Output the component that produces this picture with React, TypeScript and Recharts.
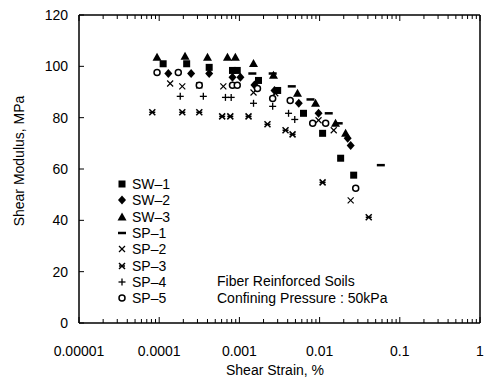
import { Scatter, ScatterChart, XAxis, YAxis } from "recharts"

// shear strain (%) vs shear modulus (MPa)
const sw1 = [
  { x: 0.000112, y: 101 }, { x: 0.00022, y: 101 }, { x: 0.00042, y: 99.6 }, { x: 0.00082, y: 98.4 },
  { x: 0.00094, y: 98.4 }, { x: 0.00173, y: 94.5 }, { x: 0.003, y: 90.6 }, { x: 0.0063, y: 81.7 },
  { x: 0.0109, y: 73.9 }, { x: 0.0183, y: 64.2 }, { x: 0.0266, y: 57.6 },
]
const sw2 = [
  { x: 0.00013, y: 97.2 }, { x: 0.00025, y: 97.2 }, { x: 0.00042, y: 97.2 }, { x: 0.00082, y: 95.7 },
  { x: 0.00103, y: 95.7 }, { x: 0.00154, y: 92.7 }, { x: 0.00274, y: 90.6 }, { x: 0.0055, y: 85.6 },
  { x: 0.0097, y: 81.7 }, { x: 0.0224, y: 72 }, { x: 0.0244, y: 69.2 },
]
const sw3 = [
  { x: 0.000094, y: 103.5 }, { x: 0.00021, y: 103.9 }, { x: 0.0004, y: 103.5 }, { x: 0.00071, y: 103.5 },
  { x: 0.00089, y: 103.5 }, { x: 0.0015, y: 101.1 }, { x: 0.00266, y: 96.5 }, { x: 0.0053, y: 89.5 },
  { x: 0.0089, y: 85.6 }, { x: 0.0158, y: 77.8 }, { x: 0.0211, y: 73.9 },
]
const sp1 = [
  { x: 0.00145, y: 97.2 }, { x: 0.0026, y: 97.2 }, { x: 0.0045, y: 92.2 }, { x: 0.0077, y: 87.1 },
  { x: 0.013, y: 81.7 }, { x: 0.0173, y: 77.8 }, { x: 0.058, y: 61.5 },
]
const sp2 = [
  { x: 0.000137, y: 93.3 }, { x: 0.000194, y: 92.2 }, { x: 0.000316, y: 92.6 }, { x: 0.00063, y: 92.2 },
  { x: 0.0015, y: 89.8 }, { x: 0.0028, y: 89.5 }, { x: 0.0097, y: 79 }, { x: 0.015, y: 75.1 },
  { x: 0.0244, y: 47.8 },
]
const sp3 = [
  { x: 0.000082, y: 82.1 }, { x: 0.000194, y: 82.1 }, { x: 0.000316, y: 82.1 }, { x: 0.00061, y: 80.5 },
  { x: 0.00077, y: 80.5 }, { x: 0.0013, y: 80.5 }, { x: 0.00224, y: 77.4 }, { x: 0.00376, y: 75.1 },
  { x: 0.0046, y: 73.5 }, { x: 0.0109, y: 54.8 }, { x: 0.041, y: 41.2 },
]
const sp4 = [
  { x: 0.000183, y: 88.3 }, { x: 0.000355, y: 88.3 }, { x: 0.00067, y: 87.9 }, { x: 0.00079, y: 87.9 },
  { x: 0.0015, y: 85.6 }, { x: 0.0026, y: 84.4 }, { x: 0.0041, y: 81.7 }, { x: 0.0049, y: 79.3 },
]
const sp5 = [
  { x: 0.000094, y: 97.6 }, { x: 0.000173, y: 97.6 }, { x: 0.000316, y: 92.6 }, { x: 0.00082, y: 92.6 },
  { x: 0.00094, y: 92.6 }, { x: 0.00168, y: 91.4 }, { x: 0.0026, y: 87.5 }, { x: 0.0043, y: 86.7 },
  { x: 0.0082, y: 77.8 }, { x: 0.0119, y: 77.8 }, { x: 0.0282, y: 52.5 },
]

const seriesNames = ["SW–1", "SW–2", "SW–3", "SP–1", "SP–2", "SP–3", "SP–4", "SP–5"]
const seriesKinds = ["square", "diamond", "triangle", "dash", "x", "star", "plus", "circle"]
const seriesData = [sw1, sw2, sw3, sp1, sp2, sp3, sp4, sp5]

const xMajorTicks = [0.00001, 0.0001, 0.001, 0.01, 0.1, 1]
const xTickLabels = ["0.00001", "0.0001", "0.001", "0.01", "0.1", "1"]
const minorSteps = [2, 3, 4, 5, 6, 7, 8, 9]
const yTicks = [0, 20, 40, 60, 80, 100, 120]

const xAllTicks = [
  ...xMajorTicks,
  ...xMajorTicks.slice(0, -1).flatMap((d) => minorSteps.map((m) => d * m)),
]

const font = "'Liberation Sans', Arial, sans-serif"

function Marker({ kind, cx, cy }: { kind: string; cx: number; cy: number }) {
  if (cx == null || cy == null) return null
  switch (kind) {
    case "square":
      return <rect x={cx - 3.5} y={cy - 3.5} width={7} height={7} fill="#000" />
    case "diamond":
      return <polygon points={`${cx},${cy - 4.5} ${cx + 4},${cy} ${cx},${cy + 4.5} ${cx - 4},${cy}`} fill="#000" />
    case "triangle":
      return <polygon points={`${cx},${cy - 4.5} ${cx + 4.5},${cy + 3.5} ${cx - 4.5},${cy + 3.5}`} fill="#000" />
    case "dash":
      return <line x1={cx - 4} y1={cy} x2={cx + 4} y2={cy} stroke="#000" strokeWidth={2.5} />
    case "x":
      return (
        <g stroke="#000" strokeWidth={1.2}>
          <line x1={cx - 3} y1={cy - 3} x2={cx + 3} y2={cy + 3} />
          <line x1={cx - 3} y1={cy + 3} x2={cx + 3} y2={cy - 3} />
        </g>
      )
    case "star":
      return (
        <g stroke="#000" strokeWidth={1.5}>
          <line x1={cx - 3} y1={cy - 3} x2={cx + 3} y2={cy + 3} />
          <line x1={cx - 3} y1={cy + 3} x2={cx + 3} y2={cy - 3} />
          <line x1={cx - 3} y1={cy} x2={cx + 3} y2={cy} />
        </g>
      )
    case "plus":
      return (
        <g stroke="#000" strokeWidth={1.3}>
          <line x1={cx - 3.5} y1={cy} x2={cx + 3.5} y2={cy} />
          <line x1={cx} y1={cy - 3.5} x2={cx} y2={cy + 3.5} />
        </g>
      )
    default:
      return <circle cx={cx} cy={cy} r={3} fill="#fff" stroke="#000" strokeWidth={1.5} />
  }
}

function isMajor(v: number) {
  return xMajorTicks.some((m) => Math.abs(v - m) / m < 1e-6)
}

function BottomTick(props: any) {
  const { x, y, payload } = props
  const v = payload.value
  const major = isMajor(v)
  const i = xMajorTicks.findIndex((m) => Math.abs(v - m) / m < 1e-6)
  return (
    <g>
      <line x1={x} y1={y} x2={x} y2={y - (major ? 6 : 4)} stroke="#000" />
      {major && (
        <text x={x} y={y + 33} textAnchor="middle" fontSize={14} fontFamily={font} fill="#000">
          {xTickLabels[i]}
        </text>
      )}
    </g>
  )
}

function TopTick(props: any) {
  const { x, y, payload } = props
  const major = isMajor(payload.value)
  return <line x1={x} y1={y} x2={x} y2={y + (major ? 6 : 4)} stroke="#000" />
}

function LeftTick(props: any) {
  const { x, y, payload } = props
  return (
    <g>
      <line x1={x} y1={y} x2={x + 5} y2={y} stroke="#000" />
      <text x={x - 11} y={y + 5} textAnchor="end" fontSize={14} fontFamily={font} fill="#000">
        {payload.value}
      </text>
    </g>
  )
}

function RightTick(props: any) {
  const { x, y } = props
  return <line x1={x} y1={y} x2={x - 5} y2={y} stroke="#000" />
}

export default function App() {
  return (
    <div style={{ position: "absolute", left: 0, top: 0, width: 488, height: 383, background: "#fff", fontFamily: font }}>
      <ScatterChart width={488} height={383} margin={{ top: 14, right: 7, bottom: 0, left: 0 }}>
        <XAxis
          xAxisId={0}
          dataKey="x"
          type="number"
          scale="log"
          domain={[0.00001, 1]}
          ticks={xAllTicks}
          interval={0}
          allowDataOverflow
          height={60}
          tickSize={0}
          tickMargin={0}
          tickLine={false}
          tick={<BottomTick />}
          axisLine={{ stroke: "#000", strokeWidth: 1.5 }}
        />
        <XAxis
          xAxisId="top"
          orientation="top"
          dataKey="x"
          type="number"
          scale="log"
          domain={[0.00001, 1]}
          ticks={xAllTicks}
          interval={0}
          allowDataOverflow
          height={1}
          tickSize={0}
          tickMargin={0}
          tickLine={false}
          tick={<TopTick />}
          axisLine={{ stroke: "#000", strokeWidth: 1.5 }}
        />
        <YAxis
          yAxisId={0}
          dataKey="y"
          type="number"
          domain={[0, 120]}
          ticks={yTicks}
          interval={0}
          width={79}
          tickSize={0}
          tickMargin={0}
          tickLine={false}
          tick={<LeftTick />}
          axisLine={{ stroke: "#000", strokeWidth: 1.5 }}
        />
        <YAxis
          yAxisId="right"
          orientation="right"
          dataKey="y"
          type="number"
          domain={[0, 120]}
          ticks={yTicks}
          interval={0}
          width={1}
          tickSize={0}
          tickMargin={0}
          tickLine={false}
          tick={<RightTick />}
          axisLine={{ stroke: "#000", strokeWidth: 1.5 }}
        />
        {seriesData.map((d, i) => (
          <Scatter
            key={seriesNames[i]}
            name={seriesNames[i]}
            data={d}
            xAxisId={0}
            yAxisId={0}
            isAnimationActive={false}
            shape={(p: any) => <Marker kind={seriesKinds[i]} cx={p.cx} cy={p.cy} />}
          />
        ))}
      </ScatterChart>

      <div style={{ position: "absolute", left: 4, top: 161, transform: "translate(-50%, -50%) rotate(-90deg)", marginLeft: 15, fontSize: 14, whiteSpace: "nowrap" }}>
        Shear Modulus, MPa
      </div>
      <div style={{ position: "absolute", left: 275, top: 370, transform: "translate(-50%, -50%)", fontSize: 14, whiteSpace: "nowrap" }}>
        Shear Strain, %
      </div>

      <div style={{ position: "absolute", left: 116, top: 176 }}>
        {seriesNames.map((n, i) => (
          <div key={n} style={{ display: "flex", alignItems: "center", height: 16.3, fontSize: 14 }}>
            <svg width={14} height={14} style={{ marginRight: 2 }}>
              <Marker kind={seriesKinds[i]} cx={6} cy={7} />
            </svg>
            <span>{n}</span>
          </div>
        ))}
      </div>

      <div style={{ position: "absolute", left: 217, top: 273, fontSize: 14, lineHeight: "16.5px", whiteSpace: "nowrap" }}>
        <div>Fiber Reinforced Soils</div>
        <div>Confining Pressure : 50kPa</div>
      </div>
    </div>
  )
}
